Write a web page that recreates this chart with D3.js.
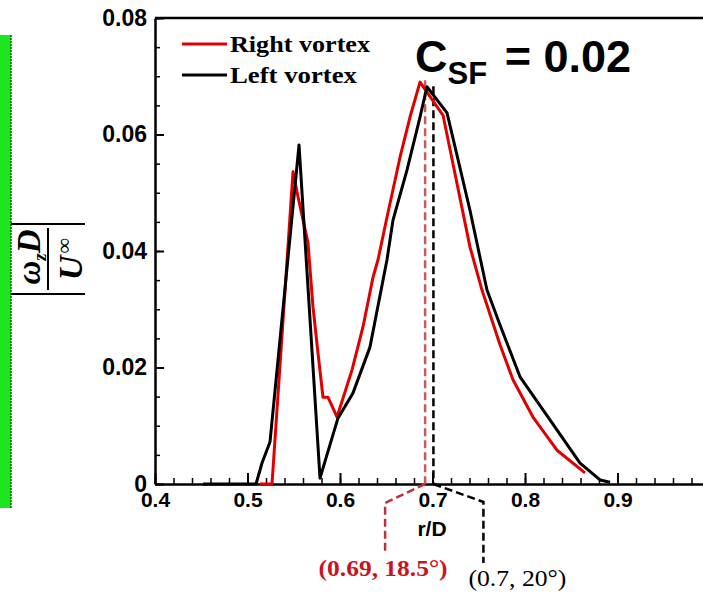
<!DOCTYPE html>
<html lang="en">
<head>
<meta charset="UTF-8" />
<title>Vorticity profile</title>
<script src="https://d3js.org/d3.v7.min.js"></script>
<style>
  body { margin: 0; background: #fff; }
  svg { display: block; }
  .tick text { font-family: Arial, "Liberation Sans", sans-serif; font-weight: bold; fill: #000; }
</style>
</head>
<body>
<svg id="chart" width="703" height="595"></svg>
<script>
// Right vortex (red)
const rightR = [0.5135, 0.5265, 0.5492, 0.5546, 0.5654, 0.5708, 0.5762, 0.5816, 0.587, 0.5968,
  0.613, 0.6249, 0.6357, 0.6411, 0.6508, 0.6649, 0.6757, 0.6865, 0.7114, 0.7405, 0.7535,
  0.773, 0.787, 0.8086, 0.8346, 0.8649];
const rightV = [0, 0, 0.0536, 0.0493, 0.0414, 0.0304, 0.0225, 0.0149, 0.0149, 0.0115,
  0.0196, 0.027, 0.0355, 0.0385, 0.0458, 0.0561, 0.063, 0.069, 0.0633, 0.0407, 0.0333,
  0.0239, 0.0179, 0.0115, 0.0058, 0.0019];

// Left vortex (black)
const leftR = [0.452, 0.5092, 0.5157, 0.5243, 0.5557, 0.5784, 0.5978, 0.614, 0.6324, 0.6508,
  0.6573, 0.6724, 0.6865, 0.694, 0.7157, 0.7405, 0.7589, 0.773, 0.7946, 0.827, 0.8595,
  0.8811, 0.892];
const leftV = [0, 0, 0.0036, 0.0072, 0.0582, 0.001, 0.0113, 0.0156, 0.0235, 0.0385,
  0.0453, 0.0539, 0.063, 0.0682, 0.0637, 0.047, 0.0333, 0.0273, 0.0184, 0.011, 0.0036,
  0.0007, 0.0003];

const xTicks = [0.4, 0.5, 0.6, 0.7, 0.8, 0.9];
const yTicks = [0, 0.02, 0.04, 0.06, 0.08];

// peak annotations
const annotR = [0.692, 0.701];
const annotV = [0.0693, 0.0683];
const annotText = ["(0.69, 18.5°)", "(0.7, 20°)"];

const svg = d3.select("#chart");

const x = d3.scaleLinear().domain([0.4, 1.0]).range([155, 710]);
const y = d3.scaleLinear().domain([0, 0.08]).range([484, 18]);

// green strip on the left edge
svg.append("rect").attr("x", 0).attr("y", 35).attr("width", 11).attr("height", 473).attr("fill", "#1ee61e");
svg.append("line").attr("x1", 11).attr("x2", 11).attr("y1", 35).attr("y2", 508)
  .attr("stroke", "#2a4a2a").attr("stroke-width", 1.5).attr("stroke-dasharray", "2,1");

// minor ticks
svg.append("g").attr("transform", "translate(0,484)")
  .call(d3.axisBottom(x).tickValues(d3.range(0, 30).map(i => 0.4 + i * 0.02)).tickSize(-6).tickSizeOuter(0).tickFormat(""))
  .call(g => g.select(".domain").remove())
  .selectAll("line").attr("stroke-width", 1.5);
svg.append("g").attr("transform", "translate(155,0)")
  .call(d3.axisLeft(y).tickValues(d3.range(0, 17).map(i => i * 0.005)).tickSize(-5).tickSizeOuter(0).tickFormat(""))
  .call(g => g.select(".domain").remove())
  .selectAll("line").attr("stroke-width", 1.5);

// major axes
svg.append("g").attr("transform", "translate(0,484)")
  .call(d3.axisBottom(x).tickValues(xTicks).tickSize(-11).tickSizeOuter(0).tickPadding(8).tickFormat(d => d.toFixed(1)))
  .call(g => g.select(".domain").attr("stroke-width", 2.5))
  .call(g => g.selectAll("text").style("font-size", "21px"))
  .selectAll("line").attr("stroke-width", 2);
svg.append("g").attr("transform", "translate(155,0)")
  .call(d3.axisLeft(y).tickValues(yTicks).tickSize(-9).tickSizeOuter(0).tickPadding(8).tickFormat(d => d === 0 ? "0" : d.toFixed(2)))
  .call(g => g.select(".domain").attr("stroke-width", 2.5))
  .call(g => g.selectAll("text").style("font-size", "23px"))
  .selectAll("line").attr("stroke-width", 2);

// top frame
svg.append("line").attr("x1", 155).attr("x2", 710).attr("y1", 18).attr("y2", 18)
  .attr("stroke", "#000").attr("stroke-width", 2.5);

// axis titles
svg.append("text").attr("x", 432).attr("y", 536).attr("text-anchor", "middle")
  .style("font-family", "Arial, 'Liberation Sans', sans-serif").style("font-weight", "bold").style("font-size", "21px")
  .text("r/D");

const yl = svg.append("g").attr("transform", "translate(48,259) rotate(-90)")
  .style("font-family", "'Liberation Serif', 'Times New Roman', serif");
yl.append("line").attr("x1", -31).attr("x2", 31).attr("y1", 0).attr("y2", 0).attr("stroke", "#000").attr("stroke-width", 2);
[-35, 35].forEach(v => yl.append("line").attr("x1", v).attr("x2", v).attr("y1", -37).attr("y2", 37)
  .attr("stroke", "#000").attr("stroke-width", 2));
const num = yl.append("text").attr("x", 2).attr("y", -8).attr("text-anchor", "middle")
  .style("font-size", "33px").style("font-weight", "bold").style("font-style", "italic");
num.append("tspan").text("ω");
num.append("tspan").attr("dy", 6).style("font-size", "19px").text("z");
num.append("tspan").attr("dy", -6).text("D");
const den = yl.append("text").attr("x", 0).attr("y", 34).attr("text-anchor", "middle")
  .style("font-size", "34px").style("font-weight", "bold").style("font-style", "italic");
den.append("tspan").text("U");
den.append("tspan").attr("dx", 2).attr("dy", -11).style("font-size", "22px").style("font-weight", "normal").style("font-style", "normal").text("∞");

// annotation leaders
const leaders = [
  { color: "#c03038", vColor: "#c85a5a", dx: -40, dy1: 19, dy2: 69, tx: -42, ty: 92, len: 129, weight: "bold", fill: "#c8141e" },
  { color: "#000", vColor: "#000", dx: 50, dy1: 18, dy2: 79, tx: 84, ty: 102, len: 98, weight: "normal", fill: "#000" }
];
annotR.forEach((r, i) => {
  const L = leaders[i];
  const x0 = x(r), y0 = y(0);
  svg.append("line").attr("x1", x0).attr("x2", x0).attr("y1", y(annotV[i])).attr("y2", y0)
    .attr("stroke", L.vColor).attr("stroke-width", 2.5).attr("stroke-dasharray", "8,4");
  svg.append("path")
    .attr("d", `M${x0},${y0}L${x0 + L.dx},${y0 + L.dy1}L${x0 + L.dx},${y0 + L.dy2}`)
    .attr("fill", "none").attr("stroke", L.color).attr("stroke-width", 2.5).attr("stroke-dasharray", "8,4");
  svg.append("text").attr("x", x0 + L.tx).attr("y", y0 + L.ty).attr("text-anchor", "middle")
    .style("font-family", "'Liberation Serif', 'Times New Roman', serif").style("font-size", "23px")
    .attr("textLength", L.len).attr("lengthAdjust", "spacingAndGlyphs")
    .style("font-weight", L.weight).attr("fill", L.fill).text(annotText[i]);
});

// series lines
const line = d3.line().x(d => x(d[0])).y(d => y(d[1]));
svg.append("path").datum(rightR.map((r, i) => [r, rightV[i]]))
  .attr("d", line).attr("fill", "none").attr("stroke", "#e00000").attr("stroke-width", 3).attr("stroke-linejoin", "round");
svg.append("path").datum(leftR.map((r, i) => [r, leftV[i]]))
  .attr("d", line).attr("fill", "none").attr("stroke", "#000").attr("stroke-width", 3).attr("stroke-linejoin", "round");

// legend
const legend = [["Right vortex", "#e00000", 44], ["Left vortex", "#000", 75]];
legend.forEach(([label, color, ly]) => {
  svg.append("line").attr("x1", 182).attr("x2", 227).attr("y1", ly).attr("y2", ly)
    .attr("stroke", color).attr("stroke-width", 3);
  svg.append("text").attr("x", 230).attr("y", ly + 8)
    .style("font-family", "'Liberation Serif', 'Times New Roman', serif").style("font-weight", "bold").style("font-size", "23px")
    .attr("textLength", label === "Right vortex" ? 140 : 127).attr("lengthAdjust", "spacingAndGlyphs")
    .text(label);
});

// C_SF label
const csf = svg.append("text").attr("x", 415).attr("y", 72)
  .style("font-family", "Arial, 'Liberation Sans', sans-serif").style("font-weight", "bold").style("font-size", "45px");
csf.append("tspan").text("C");
csf.append("tspan").attr("dy", 12).style("font-size", "31px").text("SF");
csf.append("tspan").attr("dx", 5).attr("dy", -12).text(" = 0.02");
</script>
</body>
</html>
